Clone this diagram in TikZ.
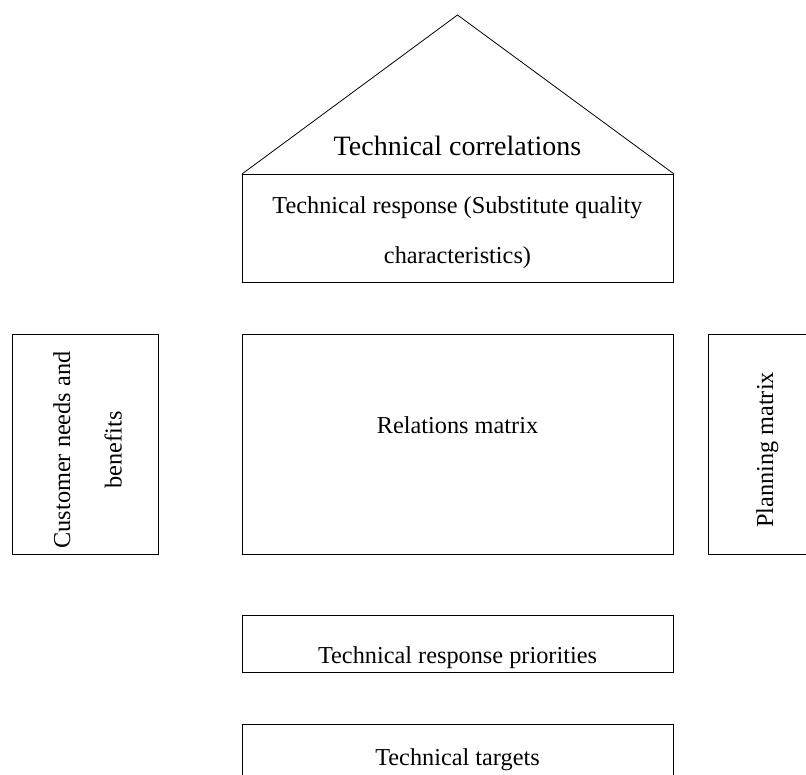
\documentclass[tikz,border=0pt]{standalone}
\usepackage{fontspec}
\setmainfont{Liberation Serif}
\begin{document}
\begin{tikzpicture}[x=1bp,y=-1bp,
  box/.style={draw, line width=1bp, rectangle, inner sep=0pt, anchor=north west},
  lbl/.style={font=\fontsize{24.3bp}{30bp}\selectfont, inner sep=0pt, anchor=base},
  biglbl/.style={font=\fontsize{28bp}{34bp}\selectfont, inner sep=0pt, anchor=base},
  roof/.style={line width=0.8bp, line join=miter}]
\useasboundingbox (0,0) rectangle (806,775);
\clip (0,0) rectangle (806,775);

% boxes
\node[box, minimum width=431bp, minimum height=108bp] (resp) at (242,174) {};
\node[box, minimum width=146bp, minimum height=220bp] (cust) at (12,334) {};
\node[box, minimum width=431bp, minimum height=220bp] (rel) at (242,334) {};
\node[box, minimum width=122bp, minimum height=220bp] (plan) at (708,334) {};
\node[box, minimum width=431bp, minimum height=57bp] (prio) at (242,615) {};
\node[box, minimum width=431bp, minimum height=76bp] (targ) at (242,724) {};

% roof of the house
\coordinate (apex) at (457.5,15);
\draw[roof] (resp.north west) -- (apex) -- (resp.north east);

% labels
\node[biglbl] (corrtxt) at (457.5,155) {Technical correlations};
\node[lbl] (resptxta) at (457.5,213) {Technical response (Substitute quality};
\node[lbl] (resptxtb) at (457.5,263) {characteristics)};
\node[lbl, rotate=90] (custtxta) at (70,450) {Customer needs and};
\node[lbl, rotate=90] (custtxtb) at (121.7,450) {benefits};
\node[lbl] (reltxt) at (457.5,433) {Relations matrix};
\node[lbl, rotate=90] (plantxt) at (773,450) {Planning matrix};
\node[lbl] (priotxt) at (457.5,663) {Technical response priorities};
\node[lbl] (targtxt) at (457.5,765.5) {Technical targets};
\end{tikzpicture}
\end{document}
